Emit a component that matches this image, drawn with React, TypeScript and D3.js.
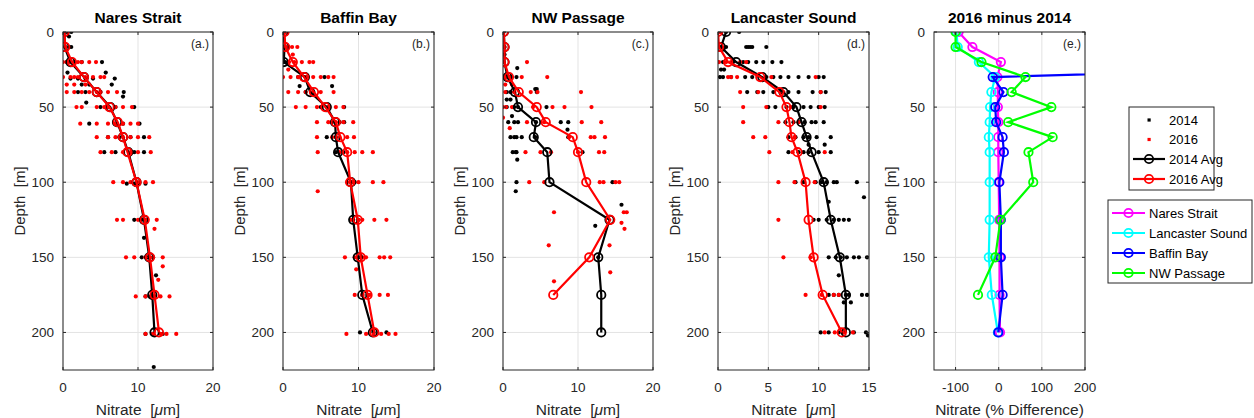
import React from 'react';
import * as d3 from 'd3';

// ---------------- DATA ----------------
const depths = [0, 10, 20, 30, 40, 50, 60, 70, 80, 100, 125, 150, 175, 200];

const naresAvg2014 = [0.2, 0.2, 1.0, 2.8, 4.5, 6.3, 7.2, 8.0, 8.7, 9.8, 10.8, 11.5, 11.9, 12.2];
const naresAvg2016 = [0.2, 0.3, 1.2, 2.8, 4.5, 6.2, 7.3, 8.0, 8.6, 9.8, 10.9, 11.6, 12.2, 12.8];
const baffinAvg2014 = [0.1, 0.2, 0.1, 2.9, 3.6, 5.8, 6.9, 7.0, 7.3, 9.0, 9.3, 9.9, 10.5, 11.9];
const baffinAvg2016 = [0.2, 0.3, 1.3, 2.8, 4.1, 5.6, 7.0, 7.6, 8.5, 8.9, 9.9, 10.3, 11.2, 12.1];
const nwAvg2014 = [0.1, 0.2, 0.2, 0.6, 1.6, 2.0, 4.4, 4.1, 5.9, 6.2, 14.2, 12.7, 13.1, 13.1];
const nwAvg2016 = [0.1, 0.2, 0.2, 0.8, 2.1, 4.5, 5.7, 9.3, 10.0, 11.1, 14.3, 11.5, 6.7];
const lancAvg2014 = [0.8, 0.3, 1.8, 4.4, 6.5, 7.8, 8.3, 8.8, 9.3, 10.5, 11.2, 12.1, 12.7, 12.7];
const lancAvg2016 = [0.0, 0.1, 1.0, 4.2, 6.1, 6.8, 7.1, 7.3, 7.9, 8.7, 9.0, 9.5, 10.4, 12.3];

// percent differences (2016 minus 2014)
const diffNares = [-93, -61, 5, -3, -2, -2, -1, -1, -1, 0, 1, 2, 2, 3];
const diffLancaster = [-98, -95, -46, -8, -17, -20, -21, -23, -21, -21, -21, -23, -16, -2];
const diffBaffin: (number | null)[] = [null, null, 1200, -14, 11, -8, -6, 9, 12, 1.5, 5, 5, 9, -1];
const diffNW = [-100, -100, -40, 62, 30, 122, 22, 125, 69, 80, 4, -8, -48];

type Grp = [number, number[]];

const naresPts2014: Grp[] = [
  [0, [0.2, 0.5, 1.1]], [3, [0.8]], [10, [0.3, 0.8, 1.1]], [20, [0.5, 1.0, 1.5, 2.5, 5.2]],
  [27, [0.6, 5.7]], [31, [1.0, 2.0, 3.0, 4.0, 6.9]], [35, [2.5, 3.5, 6.5]], [40, [2.0, 3.0, 5.0, 8.1]],
  [43, [8.0]], [47, [3.1]], [50, [5.0, 6.0, 7.0, 9.5]], [61, [3.5, 7.0, 8.0, 10.2]],
  [70, [6.0, 7.5, 9.0, 10.8]], [80, [5.5, 7.0, 9.5, 10.8]], [101, [8.5, 9.5, 10.0, 11.0]],
  [125, [9.5, 10.5, 11.2]], [137, [10.8]], [150, [10.5, 11.3, 12.0]], [162, [12.4]],
  [176, [11.0, 11.7, 12.2]], [201, [11.0, 12.0, 13.3]], [223, [12.1]],
];
const naresPts2016: Grp[] = [
  [0, [0.2]], [10, [0.3]], [20, [0, 0.5, 1.0, 1.5, 2.0, 2.5, 3.5, 4.4]],
  [30, [0, 1.0, 1.5, 2.0, 3.0, 4.0, 5.0, 5.5]], [35, [0.5, 1.5, 3.0]],
  [40, [0.5, 1.5, 2.5, 3.5, 4.5, 5.0, 6.0, 7.2]], [50, [1.8, 2.5, 4.5, 5.5, 6.0, 7.0, 8.0, 9.2]],
  [61, [2.3, 4.5, 6.0, 7.0, 8.0, 9.0, 10.0]], [70, [4.5, 6.0, 7.0, 8.0, 9.0, 10.0, 11.5]],
  [80, [5.0, 6.5, 8.0, 9.0, 10.0, 11.7]], [100, [6.7, 8.0, 9.0, 10.0, 11.0, 12.0]],
  [125, [7.2, 8.0, 10.0, 11.0, 12.5]], [131, [12.2]], [150, [8.4, 9.5, 11.0, 12.0, 13.3]],
  [156, [13.3]], [165, [12.7]], [176, [9.7, 11.0, 12.0, 13.0, 14.2]],
  [201, [11.0, 12.0, 13.0, 13.8, 15.1]],
];
const baffinPts2014: Grp[] = [
  [0, [0.1, 0.3]], [10, [0.2]], [20, [0, 0.3]], [30, [2.0, 3.0, 5.5]], [36, [2.2, 6.5]],
  [40, [3.0, 4.0]], [50, [5.0, 6.0, 8.1]], [60, [6.5, 7.5, 8.1]], [70, [5.8, 7.0]], [80, [7.0, 8.0]],
  [100, [9.0, 9.5]], [125, [9.3, 10.0]], [150, [10.0, 10.3]], [175, [10.5, 11.2]],
  [200, [10.2, 12.0, 13.7]],
];
const baffinPts2016: Grp[] = [
  [0, [0, 0.3]], [10, [0.2, 0.5, 1.2, 1.9]], [15, [1.3]], [20, [0.8, 1.5, 2.5, 3.5, 4.0]], [25, [0.7]],
  [30, [0, 1.0, 2.0, 3.0, 4.0, 5.0, 6.0, 6.7]], [40, [0.7, 2.0, 3.0, 4.0, 5.0, 6.7]],
  [50, [1.7, 3.0, 4.5, 6.0, 7.0, 8.0]], [60, [4.5, 6.0, 7.0, 8.0, 9.3]], [70, [4.5, 6.5, 7.5, 8.5, 9.4]],
  [80, [4.6, 7.5, 8.5, 9.5, 10.5, 11.9]], [100, [8.5, 9.2, 10.0, 11.9, 13.3]], [106, [4.6]],
  [125, [9.0, 10.0, 10.5, 12.1, 13.7]], [150, [8.2, 9.5, 10.5, 11.0, 12.8, 13.4, 14.2]], [158, [9.7]],
  [175, [9.5, 10.5, 11.5, 12.8, 13.9]], [201, [8.4, 11.0, 12.0, 13.0, 14.0, 14.9]],
];
const nwPts2014: Grp[] = [
  [10, [0.2]], [15, [0.2]], [24, [1.9]], [30, [0.3, 0.5, 1.0, 1.8]], [38, [4.3, 4.5]],
  [40, [0.5, 1.0, 1.5, 4.5]], [45, [0.5, 1.0]], [50, [0.5, 1.5, 2.0, 5.8]], [56, [1.2]],
  [60, [0.7, 1.5, 2.0, 4.4, 7.7, 8.7]], [65, [8.6]], [70, [1.0, 1.5, 1.8, 2.5, 4.3, 8.7]],
  [80, [1.3, 1.7, 1.8, 10.6]], [85, [1.9]], [100, [1.8, 14.6]], [106, [1.7]], [115, [15.8]],
  [129, [12.3]], [150, [12.7]],
];
const nwPts2016: Grp[] = [
  [0, [0.1]], [10, [0.2]], [20, [0.1, 3.2]], [30, [0, 0.5, 1.0, 2.5, 5.9]], [35, [0.3, 1.2]],
  [40, [0.3, 1.5, 3.7, 4.6, 10.4]], [50, [0, 0.4, 1.2, 4.0, 6.6, 8.2, 11.8]], [57, [0]],
  [60, [3.2, 5.5, 10.5, 13.1]], [64, [0.9]], [70, [8.8, 11.7, 12.2, 13.6]],
  [80, [3.0, 5.0, 6.4, 10.0, 12.8, 13.5]], [100, [3.5, 5.5, 12.9, 13.4, 15.0, 15.5]],
  [120, [6.8, 16.1, 16.5]], [127, [15.8]], [131, [16.2]], [142, [6.1, 14.2]], [160, [14.3]],
  [166, [6.8]],
];
const lancPts2014: Grp[] = [
  [0, [0.2, 0.8, 2.1]], [10, [0.3, 0.8, 2.8, 3.0, 3.2, 3.4, 4.8]],
  [20, [0.5, 1.5, 2.5, 3.0, 3.8, 4.5, 5.4, 6.3]], [25, [0.3, 0.6]],
  [30, [0.2, 0.5, 1.3, 2.7, 3.4, 4.8, 5.5, 6.2, 7.0, 8.0, 9.0, 10.0, 10.5]],
  [40, [2.9, 3.9, 4.5, 5.5, 6.3, 7.0, 8.0, 9.4, 10.2, 10.7]],
  [50, [5.0, 5.7, 6.8, 7.5, 8.5, 9.2, 10.0, 10.6]], [60, [6.7, 7.5, 8.0, 8.6, 9.3, 9.7, 10.5]],
  [70, [7.0, 7.7, 8.5, 9.0, 9.8, 11.2]], [75, [9.0, 10.6]], [80, [7.0, 8.0, 8.5, 9.0, 10.0, 11.2]],
  [100, [7.7, 8.5, 9.7, 10.3, 10.8, 11.5, 11.8, 13.8]], [110, [14.5]], [113, [11.0]],
  [125, [9.5, 10.0, 10.8, 11.5, 12.0, 12.5, 13.0]], [150, [11.0, 11.7, 12.2, 12.8, 13.5, 14.0, 14.8]],
  [162, [12.0]], [175, [11.0, 11.5, 12.0, 12.7, 13.0, 14.3, 14.8]], [180, [12.5, 13.2]],
  [200, [10.2, 11.0, 12.0, 12.5, 13.5, 14.7]], [202, [14.9]],
];
const lancPts2016: Grp[] = [
  [0, [0, 0.2]], [10, [0.1]], [20, [0.1, 0.8, 1.3, 2.2, 2.8]], [30, [1.0, 1.3, 1.9, 5.3, 9.7]],
  [40, [2.2, 4.0, 6.5, 10.2]], [50, [2.5, 4.8, 7.2, 10.2]], [60, [2.5, 6.0, 8.0]], [70, [3.5, 4.7, 7.6]],
  [80, [5.1, 7.4, 10.6]], [100, [6.0, 7.6, 9.6]], [125, [6.0]], [150, [6.5, 9.2]],
  [175, [8.7, 10.3, 11.5, 12.0]], [200, [10.6, 11.6, 12.5, 13.4]],
];

const yTicks = [0, 50, 100, 150, 200];
const legend1Labels = ['2014', '2016', '2014 Avg', '2016 Avg'];
const legend2Labels = ['Nares Strait', 'Lancaster Sound', 'Baffin Bay', 'NW Passage'];

// ---------------- LAYOUT ----------------
const W = 1254;
const H = 418;
const TOP = 32;
const BOTTOM = 370;
const AXC = '#262626';
const GRID = '#e3e3e3';
const FONT = '"Liberation Sans", Arial, Helvetica, sans-serif';
const DOT = 2.1;

type NitratePanel = {
  title: string; tag: string; left: number; right: number; xDomain: [number, number]; xTicks: number[];
  pts14: Grp[]; pts16: Grp[]; avg14: number[]; avg16: number[];
};

const nitratePanels: NitratePanel[] = [
  { title: 'Nares Strait', tag: '(a.)', left: 63, right: 213, xDomain: [0, 20], xTicks: [0, 10, 20],
    pts14: naresPts2014, pts16: naresPts2016, avg14: naresAvg2014, avg16: naresAvg2016 },
  { title: 'Baffin Bay', tag: '(b.)', left: 283, right: 434, xDomain: [0, 20], xTicks: [0, 10, 20],
    pts14: baffinPts2014, pts16: baffinPts2016, avg14: baffinAvg2014, avg16: baffinAvg2016 },
  { title: 'NW Passage', tag: '(c.)', left: 503, right: 653, xDomain: [0, 20], xTicks: [0, 10, 20],
    pts14: nwPts2014, pts16: nwPts2016, avg14: nwAvg2014, avg16: nwAvg2016 },
  { title: 'Lancaster Sound', tag: '(d.)', left: 718, right: 869, xDomain: [0, 15], xTicks: [0, 5, 10, 15],
    pts14: lancPts2014, pts16: lancPts2016, avg14: lancAvg2014, avg16: lancAvg2016 },
];

const diffSeries = [
  { name: legend2Labels[0], color: '#ff00ff', values: diffNares as (number | null)[] },
  { name: legend2Labels[1], color: '#00ffff', values: diffLancaster as (number | null)[] },
  { name: legend2Labels[2], color: '#0000ff', values: diffBaffin },
  { name: legend2Labels[3], color: '#00ff00', values: diffNW as (number | null)[] },
];

const yScale = d3.scaleLinear().domain([0, 225]).range([TOP, BOTTOM]);

function flatten(g: Grp[]): [number, number][] {
  const out: [number, number][] = [];
  g.forEach(([d, vs]) => vs.forEach((v) => out.push([d, v])));
  return out;
}

function Frame({ left, right, x, xTicks, title, tag, xlabel, id, children }: any) {
  return (
    <g>
      <rect x={left} y={TOP} width={right - left} height={BOTTOM - TOP} fill="#fff" />
      {xTicks.map((t: number) => (
        <line key={'gx' + t} x1={x(t)} x2={x(t)} y1={TOP} y2={BOTTOM} stroke={GRID} strokeWidth={1} />
      ))}
      {yTicks.map((t) => (
        <line key={'gy' + t} x1={left} x2={right} y1={yScale(t)} y2={yScale(t)} stroke={GRID} strokeWidth={1} />
      ))}
      <clipPath id={id}>
        <rect x={left} y={TOP} width={right - left} height={BOTTOM - TOP} />
      </clipPath>
      <g clipPath={`url(#${id})`}>{children}</g>
      <rect x={left} y={TOP} width={right - left} height={BOTTOM - TOP} fill="none" stroke={AXC} strokeWidth={1} />
      {xTicks.map((t: number) => (
        <g key={'tx' + t}>
          <line x1={x(t)} x2={x(t)} y1={BOTTOM} y2={BOTTOM - 3} stroke={AXC} />
          <line x1={x(t)} x2={x(t)} y1={TOP} y2={TOP + 3} stroke={AXC} />
          <text x={x(t)} y={392} textAnchor="middle" fontSize={13.5} fill={AXC}>{t}</text>
        </g>
      ))}
      {yTicks.map((t) => (
        <g key={'ty' + t}>
          <line x1={left} x2={left + 3} y1={yScale(t)} y2={yScale(t)} stroke={AXC} />
          <line x1={right} x2={right - 3} y1={yScale(t)} y2={yScale(t)} stroke={AXC} />
          <text x={left - 9} y={yScale(t) + 4.7} textAnchor="end" fontSize={13.5} fill={AXC}>{t}</text>
        </g>
      ))}
      <text x={(left + right) / 2} y={23} textAnchor="middle" fontSize={15.5} fontWeight="bold" fill="#000">{title}</text>
      <text x={right - 4} y={48} textAnchor="end" fontSize={12} fill={AXC}>{tag}</text>
      <text transform={`translate(${left - 38},${(TOP + BOTTOM) / 2}) rotate(-90)`} textAnchor="middle" fontSize={15} fill={AXC}>
        Depth{'\u00a0\u00a0'}[m]
      </text>
      <text x={(left + right) / 2} y={415} textAnchor="middle" fontSize={15.5} fill={AXC}>{xlabel}</text>
    </g>
  );
}

function NitrateChart({ p, idx }: { p: NitratePanel; idx: number }) {
  const x = d3.scaleLinear().domain(p.xDomain).range([p.left, p.right]);
  const line = d3.line<[number, number]>().x((d) => x(d[1])).y((d) => yScale(d[0]));
  const a14: [number, number][] = p.avg14.map((v, i) => [depths[i], v]);
  const a16: [number, number][] = p.avg16.map((v, i) => [depths[i], v]);
  const xl = (
    <>
      Nitrate{'\u00a0\u00a0'}[<tspan fontStyle="italic">μ</tspan>m]
    </>
  );
  return (
    <Frame left={p.left} right={p.right} x={x} xTicks={p.xTicks} title={p.title} tag={p.tag} xlabel={xl} id={'clip' + idx}>
      {flatten(p.pts14).map(([d, v], i) => (
        <circle key={'b' + i} cx={x(v)} cy={yScale(d)} r={DOT} fill="#000" />
      ))}
      {flatten(p.pts16).map(([d, v], i) => (
        <circle key={'r' + i} cx={x(v)} cy={yScale(d)} r={DOT} fill="#ff0000" />
      ))}
      <path d={line(a14) || ''} fill="none" stroke="#000" strokeWidth={2.2} />
      {a14.map(([d, v], i) => (
        <circle key={'c14' + i} cx={x(v)} cy={yScale(d)} r={4.2} fill="none" stroke="#000" strokeWidth={1.8} />
      ))}
      <path d={line(a16) || ''} fill="none" stroke="#ff0000" strokeWidth={2.2} />
      {a16.map(([d, v], i) => (
        <circle key={'c16' + i} cx={x(v)} cy={yScale(d)} r={4.2} fill="none" stroke="#ff0000" strokeWidth={1.8} />
      ))}
    </Frame>
  );
}

function DiffChart() {
  const left = 934;
  const right = 1085;
  const x = d3.scaleLinear().domain([-150, 200]).range([left, right]);
  const xTicks = [-100, 0, 100, 200];
  const line = d3
    .line<[number, number | null]>()
    .defined((d) => d[1] !== null)
    .x((d) => x(d[1] as number))
    .y((d) => yScale(d[0]));
  return (
    <Frame left={left} right={right} x={x} xTicks={xTicks} title="2016 minus 2014" tag="(e.)" xlabel="Nitrate (% Difference)" id="clipdiff">
      {diffSeries.map((s) => {
        const pts: [number, number | null][] = s.values.map((v, i) => [depths[i], v]);
        return (
          <g key={s.name}>
            <path d={line(pts) || ''} fill="none" stroke={s.color} strokeWidth={2.2} />
            {pts
              .filter((d) => d[1] !== null)
              .map(([d, v], i) => (
                <circle key={i} cx={x(v as number)} cy={yScale(d)} r={4.2} fill="none" stroke={s.color} strokeWidth={1.8} />
              ))}
          </g>
        );
      })}
    </Frame>
  );
}

function Legends() {
  const l1 = { x: 1129, y: 107, w: 85, h: 83 };
  const rows1 = [120, 139.5, 159, 179];
  const l2 = { x: 1108, y: 200, w: 144, h: 83 };
  const rows2 = [213, 233, 253, 273];
  return (
    <g fontSize={13} fill="#000">
      <rect x={l1.x} y={l1.y} width={l1.w} height={l1.h} fill="#fff" stroke={AXC} strokeWidth={1} />
      {legend1Labels.map((lab, i) => {
        const cy = rows1[i];
        const col = i % 2 === 0 ? '#000' : '#ff0000';
        return (
          <g key={lab}>
            {i < 2 ? (
              <rect x={1147.5} y={cy - 1.6} width={3.2} height={3.2} fill={col} />
            ) : (
              <>
                <line x1={1133} x2={1165} y1={cy} y2={cy} stroke={col} strokeWidth={2.2} />
                <circle cx={1149} cy={cy} r={4.2} fill="none" stroke={col} strokeWidth={1.8} />
              </>
            )}
            <text x={1169} y={cy + 4.6}>{lab}</text>
          </g>
        );
      })}
      <rect x={l2.x} y={l2.y} width={l2.w} height={l2.h} fill="#fff" stroke={AXC} strokeWidth={1} />
      {diffSeries.map((s, i) => {
        const cy = rows2[i];
        return (
          <g key={s.name}>
            <line x1={1112} x2={1145} y1={cy} y2={cy} stroke={s.color} strokeWidth={2.2} />
            <circle cx={1128.5} cy={cy} r={4.2} fill="none" stroke={s.color} strokeWidth={1.8} />
            <text x={1149} y={cy + 4.6}>{s.name}</text>
          </g>
        );
      })}
    </g>
  );
}

export default function App() {
  return (
    <svg
      width={W}
      height={H}
      viewBox={`0 0 ${W} ${H}`}
      style={{ position: 'absolute', left: 0, top: 0, background: '#fff', fontFamily: FONT }}
    >
      <rect x={0} y={0} width={W} height={H} fill="#fff" />
      {nitratePanels.map((p, i) => (
        <NitrateChart key={p.title} p={p} idx={i} />
      ))}
      <DiffChart />
      <Legends />
    </svg>
  );
}
